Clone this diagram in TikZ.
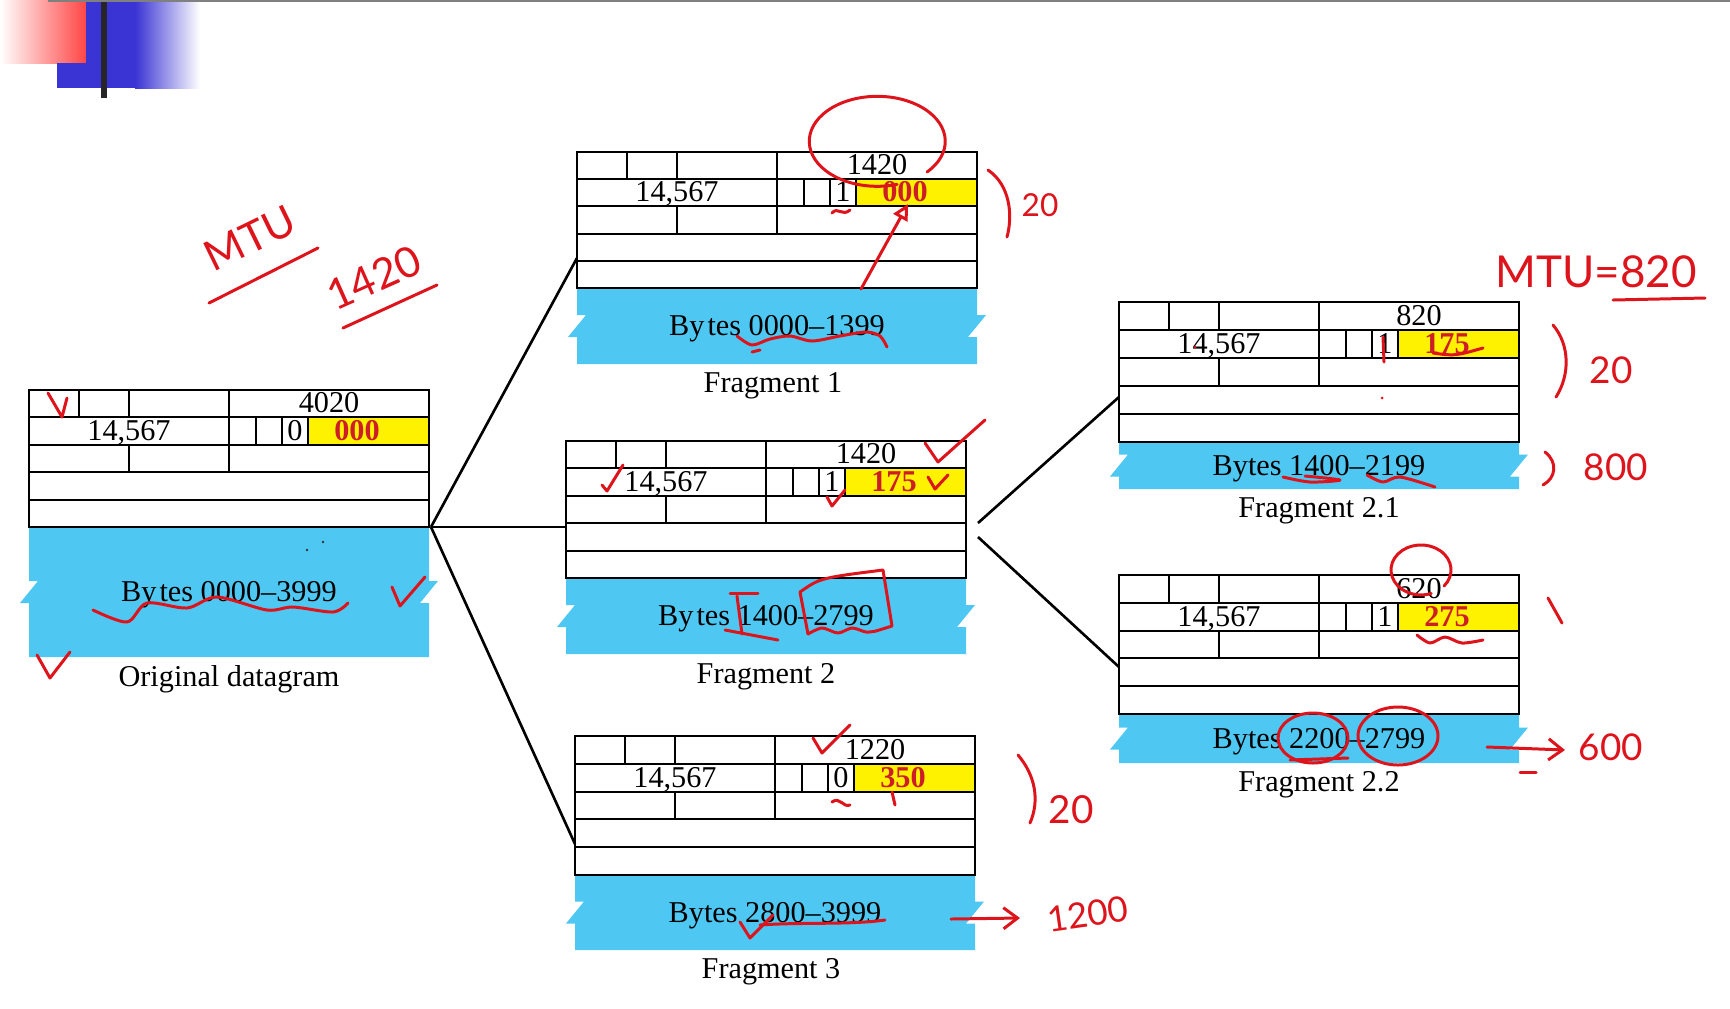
\documentclass[tikz,border=0pt]{standalone}
\usepackage{fontspec}
\setmainfont{Liberation Serif}
\newfontfamily\handfont{Lato}
\usetikzlibrary{arrows.meta, calc}
\definecolor{bodyblue}{RGB}{78,200,242}
\definecolor{offyellow}{RGB}{255,242,0}
\definecolor{offred}{RGB}{205,30,40}
\definecolor{inkred}{RGB}{222,20,28}
\definecolor{decored}{RGB}{255,70,70}
\definecolor{decoblue}{RGB}{58,52,212}
\tikzset{
  hdr/.style={line width=0.6pt, black},
  link/.style={line width=0.75pt, black},
  hfield/.style={inner sep=0pt, anchor=base, font=\fontsize{8.6}{10}\selectfont},
  offfield/.style={hfield, text=offred, font=\fontsize{8.6}{10}\selectfont\bfseries},
  btext/.style={inner sep=0pt, font=\fontsize{8.6}{10}\selectfont},
  lbl/.style={inner sep=0pt, font=\fontsize{8.6}{10}\selectfont},
  ink/.style={inkred, line width=0.85pt, line cap=round, line join=round},
  hand/.style={text=inkred, inner sep=0pt, font=\handfont\fontsize{10}{12}\selectfont},
  handbig/.style={hand, font=\handfont\fontsize{12}{14}\selectfont},
}
% one datagram: name, left x, top y, header bottom y, body bottom y, length, MF, offset, bytes
\newcommand{\ippacket}[9]{%
  \pgfmathsetmacro{\pkr}{(#4-#3)/5}%
  \pgfmathsetmacro{\pkm}{(#4+#5)/2}%
  \fill[bodyblue] (#2,#4) -- (#2+400,#4) -- (#2+400,\pkm-11) -- ++(9,0) -- ++(-18,22) -- ++(9,0) -- (#2+400,#5) -- (#2,#5) -- (#2,\pkm+11) -- ++(-9,0) -- ++(18,-22) -- ++(-9,0) -- cycle;
  \fill[offyellow] (#2+279,#3+\pkr) rectangle (#2+400,#3+2*\pkr);
  \draw[hdr] (#2,#3) rectangle (#2+400,#4);
  \foreach \k in {1,...,4} {\draw[hdr] (#2,#3+\k*\pkr) -- (#2+400,#3+\k*\pkr);}
  \draw[hdr] (#2+50,#3) -- (#2+50,#3+\pkr) (#2+100,#3) -- (#2+100,#3+\pkr) (#2+200,#3) -- (#2+200,#3+3*\pkr);
  \draw[hdr] (#2+227,#3+\pkr) -- (#2+227,#3+2*\pkr) (#2+253,#3+\pkr) -- (#2+253,#3+2*\pkr) (#2+279,#3+\pkr) -- (#2+279,#3+2*\pkr);
  \draw[hdr] (#2+100,#3+2*\pkr) -- (#2+100,#3+3*\pkr);
  \node[hfield] (#1-len) at (#2+300,#3+\pkr-4.5) {#6};
  \node[hfield] (#1-id) at (#2+100,#3+2*\pkr-4.5) {14,567};
  \node[hfield] (#1-mf) at (#2+266,#3+2*\pkr-4.5) {#7};
  \node[offfield] (#1-off) at (#2+328,#3+2*\pkr-4.5) {#8};
  \node[btext] (#1-bytes) at (#2+200,\pkm+3) {#9};
  \coordinate (#1-s) at (#2+200,#5);
}
\begin{document}
\begin{tikzpicture}[x=0.01cm, y=-0.01cm]
  \useasboundingbox[fill=white] (0,0) rectangle (1730,1008);
  % slide decoration
  \shade[left color=white, right color=decored] (0,0) rectangle (86,63);
  \fill[decoblue] (57,63) rectangle (86,88); \fill[decoblue] (86,0) rectangle (135,88);
  \shade[left color=decoblue, right color=white] (135,0) rectangle (200,88);
  \draw[line width=1.5pt, black!85] (104,0) -- (104,98);
  \draw[gray, line width=0.6pt] (48,1) -- (1730,1);

  % datagrams
  \ippacket{orig}{29}{390}{527}{657}{4020}{0}{000}{By\kern0.1em tes 0000--3999}
  \ippacket{frag1}{577}{152}{288}{364}{1420}{1}{000}{By\kern0.1em tes 0000--1399}
  \ippacket{frag2}{566}{441}{578}{654}{1420}{1}{175}{By\kern0.1em tes 1400--2799}
  \ippacket{frag3}{575}{736}{875}{950}{1220}{0}{350}{Bytes 2800--3999}
  \ippacket{frag21}{1119}{302}{442}{489}{820}{1}{175}{Bytes 1400--2199}
  \ippacket{frag22}{1119}{575}{714}{763}{620}{1}{275}{Bytes 2200--2799}
  \node[lbl] at ($(orig-s)+(0,22)$) {Original datagram};
  \node[lbl] at ($(frag1-s)+(-4,22)$) {Fragment 1};
  \node[lbl] at ($(frag2-s)+(0,23)$) {Fragment 2};
  \node[lbl] at ($(frag3-s)+(-4,22)$) {Fragment 3};
  \node[lbl] at ($(frag21-s)+(0,22)$) {Fragment 2.1};
  \node[lbl] at ($(frag22-s)+(0,22)$) {Fragment 2.2};

  % connectors
  \coordinate (orig-out) at (431,527);
  \coordinate (frag1-in) at (577,258); \coordinate (frag2-in) at (566,527); \coordinate (frag3-in) at (575,844);
  \coordinate (frag2-outa) at (978,523); \coordinate (frag2-outb) at (978,537);
  \coordinate (frag21-in) at (1119,397); \coordinate (frag22-in) at (1119,667);
  \draw[link] (orig-out) -- (frag1-in); \draw[link] (orig-out) -- (frag2-in); \draw[link] (orig-out) -- (frag3-in);
  \draw[link] (frag2-outa) -- (frag21-in); \draw[link] (frag2-outb) -- (frag22-in);

  % hand notes: MTU 1420
  \node[handbig, rotate=26] at (250,238) {MTU}; \draw[ink] (209,303) -- (318,248);
  \node[handbig, rotate=24] at (374,278) {1420}; \draw[ink] (343,328) -- (437,285);
  % original datagram
  \draw[ink] (48,393) -- (62,417) -- (67,398); \draw[ink] (392,587) -- (400,606) -- (425,577); \draw[ink] (37,655) -- (50,678) -- (70,652);
  \draw[ink] plot[smooth] coordinates {(93,610) (127,622) (147,603) (187,608) (217,597) (267,610) (293,607) (333,612) (348,603)};
  \fill[black!80] (307,550) circle (1.3); \fill[black!80] (323,542) circle (1.3);
  % fragment 1
  \draw[ink] (927,172) arc[start angle=43, end angle=-287, x radius=68, y radius=45];
  \draw[ink, -{Triangle[open, length=4.5pt, width=4.5pt]}] (861,289) -- (908,204);
  \draw[ink] (832,213) .. controls (838,206) and (842,217) .. (850,210);
  \draw[ink] plot[smooth] coordinates {(737,336) (752,345) (770,339) (790,336) (812,341) (840,336) (866,332) (880,336) (887,347)};
  \draw[ink] (752,352) -- (760,350);
  \draw[ink] (988,170) .. controls (1010,185) and (1013,215) .. (1007,237);
  \node[hand, font=\handfont\fontsize{9}{11}\selectfont] at (1040,205) {20};
  % fragment 2
  \draw[ink] (925,443) -- (938,462) -- (985,420); \draw[ink] (602,485) -- (607,491) -- (623,465);
  \draw[ink] (827,497) -- (832,506) -- (845,490); \draw[ink] (928,477) -- (935,489) -- (948,475);
  \draw[ink] (808,634) -- (800,592) .. controls (820,578) .. (883,570) -- (892,626) -- (876,631);
  \draw[ink] plot[smooth] coordinates {(808,634) (822,628) (838,633) (852,628) (866,632) (876,631)};
  \draw[ink] (730,593) -- (758,593); \draw[ink] (737,596) -- (742,634); \draw[ink] (725,630) -- (778,640);
  % fragment 3
  \draw[ink] (813,738) -- (822,753) -- (850,725);
  \draw[ink] (832,802) .. controls (840,796) and (843,808) .. (850,805); \draw[ink] (892,792) -- (895,805);
  \draw[ink] (740,922) -- (750,938) -- (773,915);
  \draw[ink] (760,925) .. controls (800,922) and (850,925) .. (885,920);
  \draw[ink] (1018,755) .. controls (1035,775) and (1040,800) .. (1030,823);
  \node[hand, font=\handfont\fontsize{11}{13}\selectfont] at (1071,810) {20};
  \draw[ink, -{Straight Barb[length=4pt, width=6pt]}] (951,919) -- (1020,918);
  \node[hand, rotate=8, font=\handfont\fontsize{10}{12}\selectfont] at (1088,914) {1200};
  % fragment 2.1
  \draw[ink] plot[smooth] coordinates {(1283,477) (1310,482) (1340,480) (1305,476)};
  \draw[ink] plot[smooth] coordinates {(1367,475) (1383,482) (1400,477) (1435,487)};
  \draw[ink] (1383,337) -- (1384,362); \draw[ink] (1433,353) .. controls (1455,356) .. (1483,348);
  \fill[inkred] (1382,398) circle (1.5); \fill[inkred] (1195,347) circle (1.5);
  \draw[ink] (1553,325) .. controls (1570,345) and (1570,375) .. (1556,397);
  \node[hand, font=\handfont\fontsize{10.5}{13}\selectfont] at (1611,370) {20};
  \draw[ink] (1545,452) .. controls (1558,462) and (1556,478) .. (1543,485);
  \node[hand, font=\handfont\fontsize{10.5}{13}\selectfont] at (1616,467) {800};
  \node[hand, font=\handfont\fontsize{12.5}{15}\selectfont] at (1596,272) {MTU=820}; \draw[ink] (1613,300) -- (1705,298);
  % fragment 2.2
  \draw[ink] (1444,586) arc[start angle=40, end angle=-290, x radius=30, y radius=25];
  \draw[ink] plot[smooth] coordinates {(1417,635) (1430,643) (1445,637) (1462,643) (1483,640)};
  \draw[ink] (1313,738) ellipse[x radius=35, y radius=25]; \draw[ink] (1398,736) ellipse[x radius=40, y radius=29];
  \draw[ink] (1290,760) -- (1348,758); \draw[ink] (1548,598) -- (1562,623);
  \draw[ink, -{Straight Barb[length=4pt, width=6pt]}] (1487,747) -- (1565,750);
  \node[hand, font=\handfont\fontsize{10.5}{13}\selectfont] at (1611,747) {600};
  \draw[ink] (1520,772) -- (1536,772);
\end{tikzpicture}
\end{document}
